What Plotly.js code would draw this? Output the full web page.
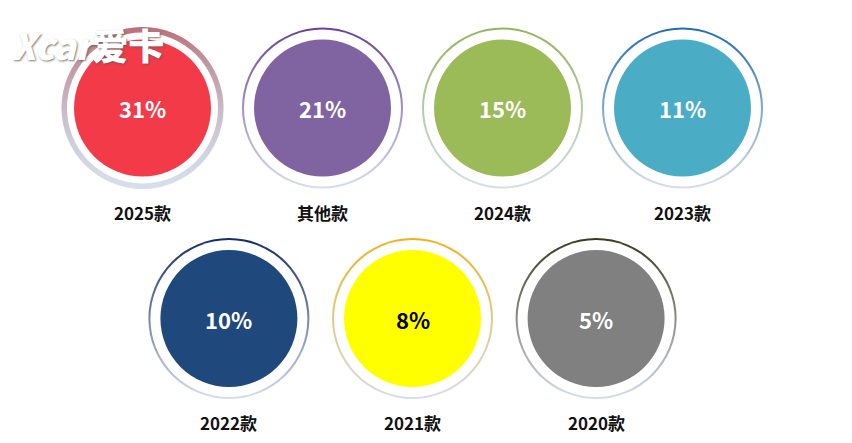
<!DOCTYPE html>
<html>
<head>
<meta charset="utf-8">
<script src="https://cdn.plot.ly/plotly-3.0.1.min.js"></script>
<style>html,body{margin:0;padding:0;background:#fff;}#chart{width:852px;height:443px;}</style>
</head>
<body>
<div id="chart"></div>
<script>
// ---- data ----
const categories = ['2025款', '其他款', '2024款', '2023款', '2022款', '2021款', '2020款'];
const shares = [31, 21, 15, 11, 10, 8, 5];
const fillColors = ['#f33a48', '#8064a2', '#9bbb59', '#4bacc6', '#1f497d', '#ffff00', '#808080'];
const ringColors = ['#b8343e', '#6b3f9c', '#93b45a', '#1f6eb3', '#132b6b', '#eeb31c', '#3b3a1e'];
const valueTextColors = ['#ffffff', '#ffffff', '#ffffff', '#ffffff', '#ffffff', '#000000', '#ffffff'];
const itemsPerRow = [4, 3];

// ---- layout of the grid (computed from index) ----
const xs = [], ys = [];
itemsPerRow.forEach((n, r) => {
  const gap = r === 0 ? 1 : 1.02;
  for (let c = 0; c < n; c++) {
    xs.push((c - (n - 1) / 2) * gap);
    ys.push(r);
  }
});

const ringLight = '#d7deec';
const ringSize = categories.map((_, i) => i === 0 ? 162 : 161);
const whiteSize = categories.map((_, i) => i === 0 ? 151 : 157);

const traces = [];
// soft shadow for the first (highlighted) item
traces.push({
  type: 'scatter', mode: 'markers', x: [xs[0]], y: [ys[0]], hoverinfo: 'skip',
  marker: { size: 172, opacity: 1, color: 'rgba(255,255,255,0)', gradient: { type: 'radial', color: 'rgba(150,150,170,0.4)' }, line: { width: 0 } }
});
// outer ring (gradient from dark at top to light at bottom)
traces.push({
  type: 'scatter', mode: 'markers', x: xs, y: ys, hoverinfo: 'skip',
  marker: {
    size: ringSize, opacity: 1, color: ringColors.map((c, i) => i === 0 ? '#c4c7d3' : c),
    gradient: { type: 'vertical', color: ringLight }, line: { width: 0 }
  }
});
// top accent for the first ring
traces.push({
  type: 'scatter', mode: 'markers', x: [xs[0]], y: [ys[0]], hoverinfo: 'skip',
  marker: { size: 162, opacity: 0.6, color: ringColors[0], gradient: { type: 'vertical', color: 'rgba(196,199,211,0)' }, line: { width: 0 } }
});
// white gap
traces.push({
  type: 'scatter', mode: 'markers', x: xs, y: ys, hoverinfo: 'skip',
  marker: { size: whiteSize, opacity: 1, color: '#ffffff', line: { width: 0 } }
});
// filled disc
traces.push({
  type: 'scatter', mode: 'markers', x: xs, y: ys, hoverinfo: 'skip',
  marker: { size: 137, opacity: 1, color: fillColors, line: { width: 0 } }
});

const font = '"Noto Sans CJK SC", "Noto Sans", sans-serif';
const annotations = [];
shares.forEach((v, i) => annotations.push({
  x: xs[i], y: ys[i], xref: 'x', yref: 'y', text: v + '%', showarrow: false,
  yshift: 0,
  font: { family: font, size: 22, weight: 700, color: valueTextColors[i] }
}));
categories.forEach((c, i) => annotations.push({
  x: xs[i], y: ys[i], xref: 'x', yref: 'y', text: c, showarrow: false,
  yshift: -104,
  font: { family: font, size: 17, weight: 700, color: '#111111' }
}));
// watermark
annotations.push({
  x: 0.012, y: 0.965, xref: 'paper', yref: 'paper', xanchor: 'left', yanchor: 'top',
  text: '<i>Xcar</i>爱卡', showarrow: false,
  font: { family: font, size: 36, weight: 900, color: '#ffffff', shadow: '1px 1px 2px rgba(90,90,90,0.8)' }
});

const layout = {
  width: 852, height: 443,
  margin: { l: 0, r: 0, t: 0, b: 0 },
  paper_bgcolor: '#ffffff', plot_bgcolor: '#ffffff',
  showlegend: false,
  xaxis: { range: [-412.5 / 180, 439.5 / 180], visible: false, fixedrange: true },
  yaxis: { range: [(443 - 108) / 210.5, -108 / 210.5], visible: false, fixedrange: true },
  annotations: annotations
};

Plotly.newPlot('chart', traces, layout, { displayModeBar: false, staticPlot: true });
</script>
</body>
</html>
